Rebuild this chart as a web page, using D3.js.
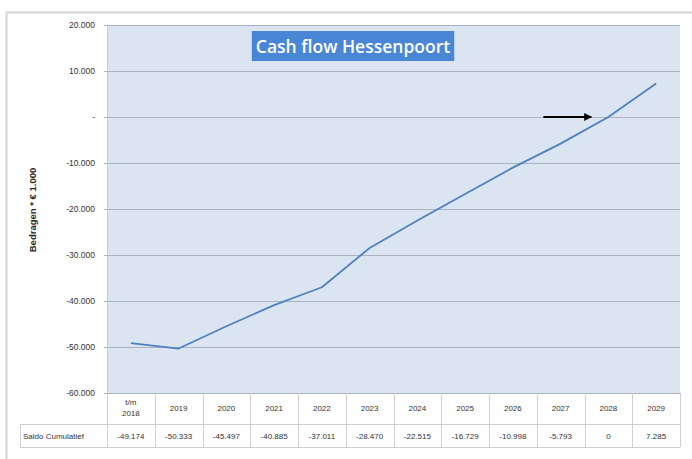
<!DOCTYPE html>
<html>
<head>
<meta charset="utf-8">
<script src="https://cdn.jsdelivr.net/npm/d3@7"></script>
<style>
  body { margin: 0; background: #fff; }
  svg { display: block; }
</style>
</head>
<body>
<script>
// chart data
const categories = ["t/m 2018", "2019", "2020", "2021", "2022", "2023", "2024", "2025", "2026", "2027", "2028", "2029"];
const saldo = [-49174, -50333, -45497, -40885, -37011, -28470, -22515, -16729, -10998, -5793, 0, 7285];
const yTicks = [20000, 10000, 0, -10000, -20000, -30000, -40000, -50000, -60000];
const title = "Cash flow Hessenpoort";
const yTitle = "Bedragen * € 1.000";
const rowLabel = "Saldo Cumulatief";

const width = 692, height = 459;
const plotLeft = 107, plotRight = 680, plotTop = 25, plotBottom = 393;

// dutch style thousands, plain hyphen for minus
const nl = d3.formatLocale({ decimal: ",", thousands: ".", grouping: [3], currency: ["€", ""], minus: "-" });
const fmt = v => v === 0 ? "-" : nl.format(",")(v);
const fmtCell = v => nl.format(",")(v);

const x = d3.scaleBand().domain(categories).range([plotLeft, plotRight]).padding(0);
const y = d3.scaleLinear().domain([-60000, 20000]).range([plotBottom, plotTop]);

const svg = d3.select("body").append("svg")
  .attr("width", width)
  .attr("height", height)
  .attr("font-family", "'Liberation Sans', Arial, sans-serif");

// outer frame
svg.append("path")
  .attr("d", `M6.5,${height} V12.5 H${width}`)
  .attr("fill", "none")
  .attr("stroke", "#d4d4d4")
  .attr("stroke-width", 2);

// plot area
svg.append("rect")
  .attr("x", plotLeft).attr("y", plotTop)
  .attr("width", plotRight - plotLeft).attr("height", plotBottom - plotTop)
  .attr("fill", "#dbe5f1");

// gridlines + y axis
const yAxis = svg.append("g")
  .attr("transform", `translate(${plotLeft},0)`)
  .call(d3.axisLeft(y).tickValues(yTicks).tickFormat(fmt).tickSize(3).tickPadding(9));
yAxis.select(".domain").remove();
yAxis.selectAll("line").attr("stroke", "#aab2bd");
yAxis.selectAll("text").attr("font-size", 8.5).attr("fill", "#333");

svg.append("g")
  .selectAll("line")
  .data(yTicks)
  .join("line")
  .attr("x1", plotLeft).attr("x2", plotRight)
  .attr("y1", d => Math.round(y(d)) + 0.5).attr("y2", d => Math.round(y(d)) + 0.5)
  .attr("stroke", "#aab2bd")
  .attr("stroke-width", 1.2);

// left edge of the plot
svg.append("line")
  .attr("x1", plotLeft + 0.5).attr("x2", plotLeft + 0.5)
  .attr("y1", plotTop).attr("y2", plotBottom)
  .attr("stroke", "#c8ccd2");

// y axis title
svg.append("text")
  .attr("transform", `translate(36,210) rotate(-90)`)
  .attr("text-anchor", "middle")
  .attr("font-size", 9.5)
  .attr("font-weight", "bold")
  .attr("fill", "#262626")
  .text(yTitle);

// line
const cx = d => x(d) + x.bandwidth() / 2;
svg.append("path")
  .datum(categories.map((c, i) => [c, saldo[i]]))
  .attr("fill", "none")
  .attr("stroke", "#4f81bd")
  .attr("stroke-width", 1.8)
  .attr("stroke-linejoin", "round")
  .attr("d", d3.line().x(d => cx(d[0])).y(d => y(d[1])));

// title box
const tg = svg.append("g");
const tt = tg.append("text")
  .attr("x", 353).attr("y", 52.5)
  .attr("text-anchor", "middle")
  .attr("font-family", "'Open Sans', sans-serif")
  .attr("font-size", 17.5)
  .attr("font-weight", 600)
  .attr("fill", "#fff")
  .text(title);
const bb = tt.node().getBBox();
tg.insert("rect", "text")
  .attr("x", bb.x - 4).attr("y", 31)
  .attr("width", bb.width + 8).attr("height", 30)
  .attr("fill", "#4a86d6");

// arrow pointing at break-even
svg.append("defs").append("marker")
  .attr("id", "head")
  .attr("viewBox", "0 0 10 10")
  .attr("refX", 9).attr("refY", 5)
  .attr("markerWidth", 4).attr("markerHeight", 4)
  .attr("orient", "auto")
  .append("path").attr("d", "M0,0 L10,5 L0,10 Z").attr("fill", "#000");
const tipX = cx("2028") - 17;
svg.append("line")
  .attr("x1", tipX - 48).attr("x2", tipX)
  .attr("y1", y(0)).attr("y2", y(0))
  .attr("stroke", "#000")
  .attr("stroke-width", 2)
  .attr("marker-end", "url(#head)");

// data table
const rowTop = plotBottom, rowMid = 424, rowBot = 447, tableLeft = 20;
const grid = svg.append("g").attr("stroke", "#cfcfcf").attr("fill", "none");
grid.append("path")
  .attr("d", `M${tableLeft},${rowMid + 0.5} H${plotRight} M${tableLeft},${rowBot + 0.5} H${plotRight} M${tableLeft + 0.5},${rowMid} V${rowBot}`);
grid.selectAll("line")
  .data([plotLeft].concat(categories.map(c => x(c) + x.bandwidth())))
  .join("line")
  .attr("x1", d => Math.round(d) + 0.5).attr("x2", d => Math.round(d) + 0.5)
  .attr("y1", rowTop).attr("y2", rowBot);

const cells = svg.append("g")
  .attr("font-size", 8)
  .attr("fill", "#333")
  .attr("text-anchor", "middle");
categories.forEach((c, i) => {
  const parts = c.split(" ");
  const t = cells.append("text").attr("x", cx(c));
  if (parts.length > 1) {
    t.append("tspan").attr("x", cx(c)).attr("y", 405).text(parts[0]);
    t.append("tspan").attr("x", cx(c)).attr("y", 416).text(parts[1]);
  } else {
    t.attr("y", 411).text(c);
  }
  cells.append("text").attr("x", cx(c)).attr("y", 438.5).text(fmtCell(saldo[i]));
});
cells.append("text")
  .attr("x", tableLeft + 3).attr("y", 438.5)
  .attr("text-anchor", "start")
  .text(rowLabel);
</script>
</body>
</html>
